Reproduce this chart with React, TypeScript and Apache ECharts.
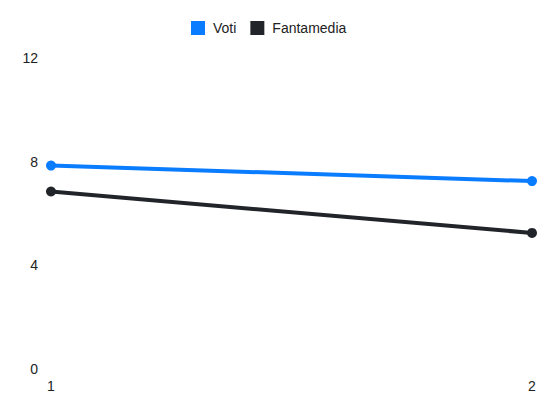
import React, { useEffect, useRef } from "react";
import * as echarts from "echarts";

const categories = ["1", "2"];
const voti = [7.85, 7.25];
const fantamedia = [6.85, 5.25];
const yTicks = { min: 0, max: 12, interval: 4 };

export default function App() {
  const ref = useRef<HTMLDivElement>(null);
  useEffect(() => {
    if (!ref.current) return;
    const chart = echarts.init(ref.current, null, { renderer: "svg" });
    chart.setOption({
      animation: false,
      textStyle: { fontFamily: "Liberation Sans" },
      legend: {
        top: 16,
        left: 186,
        itemWidth: 14,
        itemHeight: 14,
        itemGap: 14,
        icon: "rect",
        textStyle: { fontSize: 14, color: "#222", fontFamily: "Liberation Sans", padding: [0, 0, 0, 3] },
        data: ["Voti", "Fantamedia"],
      },
      grid: { left: 51, right: 18, top: 58, bottom: 43, containLabel: false },
      xAxis: {
        type: "category",
        data: categories,
        boundaryGap: false,
        axisLine: { show: false },
        axisTick: { show: false },
        splitLine: { show: false },
        axisLabel: { color: "#222", fontSize: 14, fontFamily: "Liberation Sans", margin: 10 },
      },
      yAxis: {
        type: "value",
        min: yTicks.min,
        max: yTicks.max,
        interval: yTicks.interval,
        axisLine: { show: false },
        axisTick: { show: false },
        splitLine: { show: false },
        axisLabel: { color: "#222", fontSize: 14, fontFamily: "Liberation Sans", margin: 13 },
      },
      series: [
        {
          name: "Voti",
          type: "line",
          data: voti,
          color: "#0a7cff",
          lineStyle: { width: 4, color: "#0a7cff" },
          symbol: "circle",
          symbolSize: 10,
          itemStyle: { color: "#0a7cff" },
        },
        {
          name: "Fantamedia",
          type: "line",
          data: fantamedia,
          color: "#212529",
          lineStyle: { width: 4, color: "#212529" },
          symbol: "circle",
          symbolSize: 10,
          itemStyle: { color: "#212529" },
        },
      ],
    });
    return () => chart.dispose();
  }, []);
  return <div ref={ref} style={{ width: 550, height: 412, position: "absolute", left: 0, top: 0 }} />;
}
